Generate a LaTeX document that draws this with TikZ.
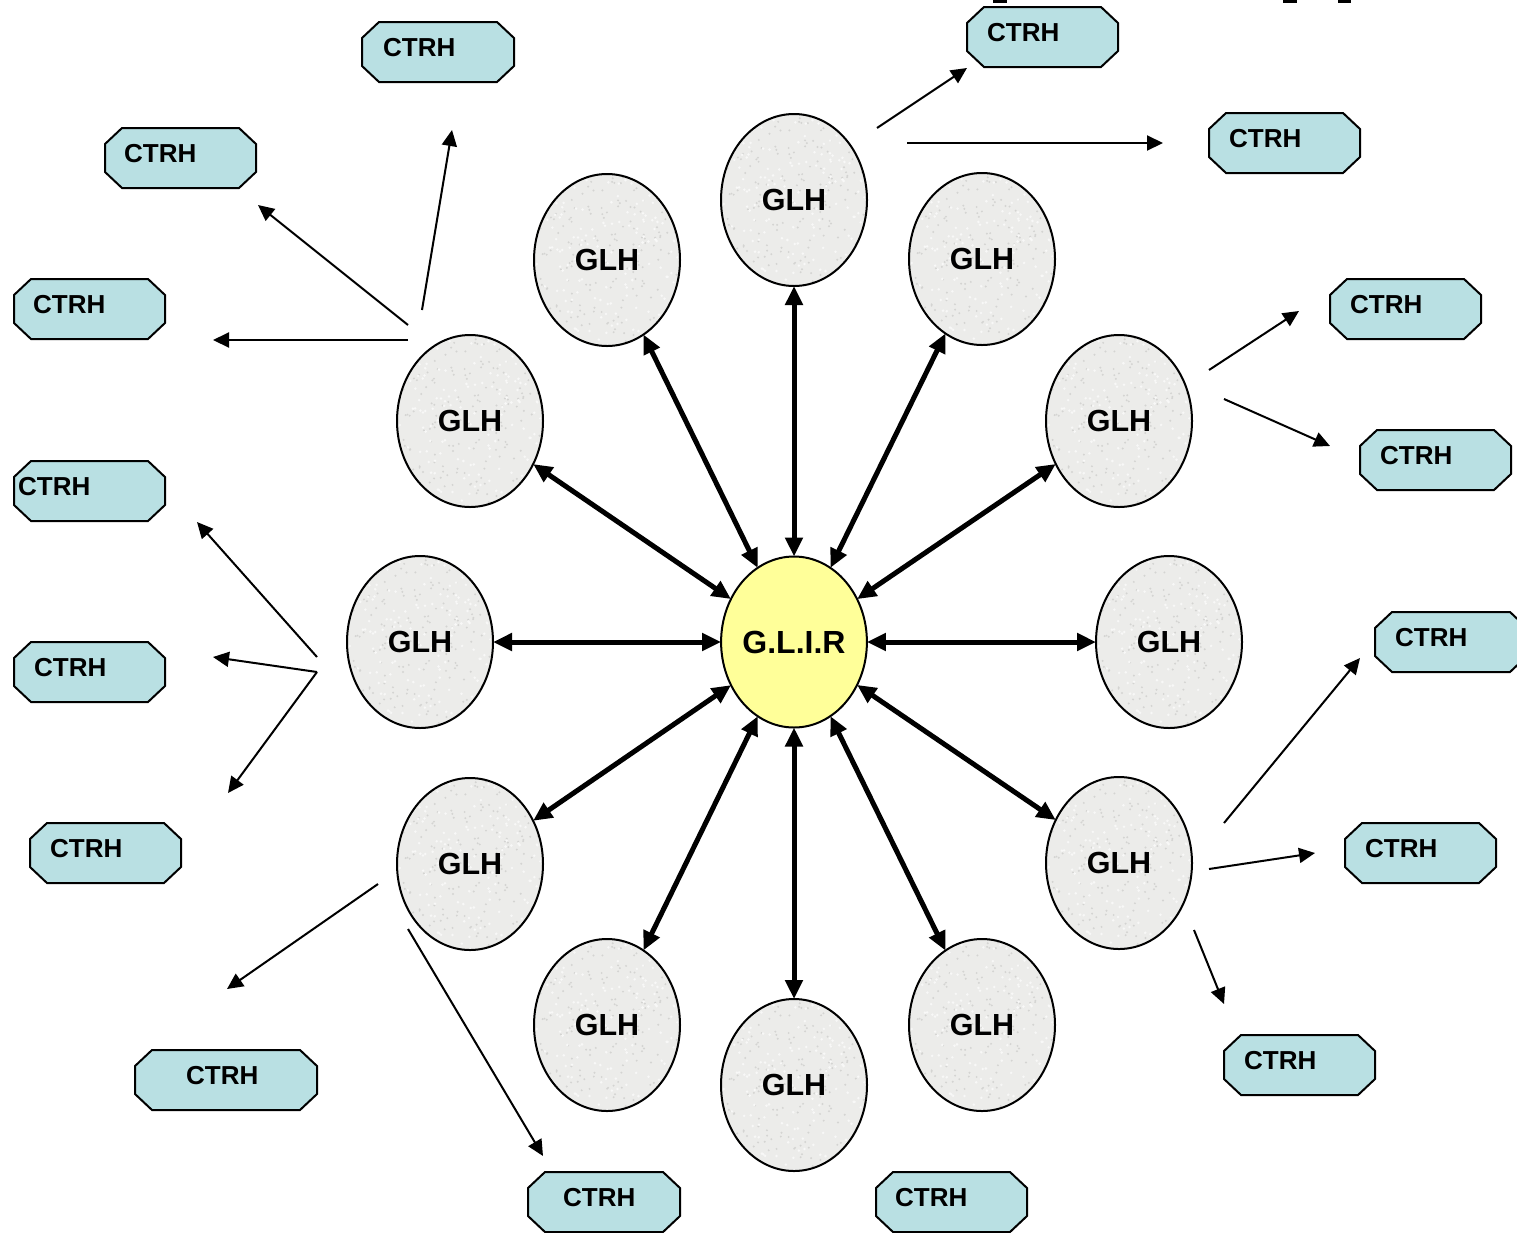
\documentclass[tikz,border=0pt]{standalone}
\usepackage{fontspec}
\setmainfont{Liberation Sans}
\usetikzlibrary{shapes.geometric,arrows.meta}
\definecolor{ctrhblue}{HTML}{B9E0E3}
\definecolor{glhgray}{HTML}{ECECEA}
\definecolor{speckdark}{HTML}{D4D4D2}
\definecolor{specklight}{HTML}{F8F8F7}
\definecolor{glirfill}{HTML}{FFFF99}
\newcommand\octbox[5]{%
  \node[ctrhbase, minimum width=#4] (#1) at (#2,#3) {};
  \draw[ctrhline] ([xshift=17pt]#1.north west) -- ([xshift=-17pt]#1.north east)
    -- ([yshift=-16pt]#1.north east) -- ([yshift=16pt]#1.south east)
    -- ([xshift=-17pt]#1.south east) -- ([xshift=17pt]#1.south west)
    -- ([yshift=16pt]#1.south west) -- ([yshift=-16pt]#1.north west) -- cycle;
  \node[ctrhtxt, anchor=west] (#1t) at ([xshift=#5pt,yshift=4pt]#1.west) {CTRH};
}
\begin{document}
\begin{tikzpicture}[x=1pt,y=-1pt,
  glh/.style={ellipse, draw, line width=2pt, fill=glhgray, minimum width=146pt,
    minimum height=172pt, inner sep=0pt, outer sep=0pt,
    font=\fontsize{30.5}{36}\selectfont\bfseries,
    path picture={\pgfmathsetseed{7}%
      \foreach \i in {1,...,220}{%
        \pgfmathsetmacro\rx{rand*75}\pgfmathsetmacro\ry{rand*88}%
        \fill[speckdark] ([xshift=\rx pt, yshift=\ry pt]path picture bounding box.center) circle (1.1pt);}
      \foreach \i in {1,...,180}{%
        \pgfmathsetmacro\rx{rand*75}\pgfmathsetmacro\ry{rand*88}%
        \fill[specklight] ([xshift=\rx pt, yshift=\ry pt]path picture bounding box.center) circle (1.4pt);}
    }},
  glir/.style={ellipse, draw, line width=2pt, fill=glirfill, minimum width=144pt,
    minimum height=171pt, inner sep=0pt, outer sep=0pt,
    font=\fontsize{32}{36}\selectfont\bfseries},
  ctrhbase/.style={rectangle, draw=none, minimum height=60pt, inner sep=0pt, outer sep=0pt},
  ctrhline/.style={draw=black, line width=2pt, fill=ctrhblue, line join=miter},
  ctrhtxt/.style={inner sep=0pt, font=\fontsize{26}{30}\selectfont\bfseries},
  thick arrow/.style={line width=5pt, {Triangle[length=19pt,width=17pt]}-{Triangle[length=19pt,width=17pt]}},
  thin arrow/.style={line width=2pt, -{Triangle[length=16pt,width=15pt]}}
]
\useasboundingbox (0,0) rectangle (1517,1232);
\clip (0,0) rectangle (1517,1232);

% clipped marks at the top edge
\fill (993,-2) rectangle (1007,3);
\fill (1283,-2) rectangle (1297,3);
\fill (1338,-2) rectangle (1351,3);

% centre and GLH nodes
\node[glir] (c) at (794,642) {G.L.I.R};
\node[glh] (g1) at (794,200) {GLH};
\node[glh] (g2) at (607,260) {GLH};
\node[glh] (g3) at (982,259) {GLH};
\node[glh] (g4) at (470,421) {GLH};
\node[glh] (g5) at (1119,421) {GLH};
\node[glh] (g6) at (420,642) {GLH};
\node[glh] (g7) at (1169,642) {GLH};
\node[glh] (g8) at (470,864) {GLH};
\node[glh] (g9) at (1119,863) {GLH};
\node[glh] (g10) at (607,1025) {GLH};
\node[glh] (g11) at (982,1025) {GLH};
\node[glh] (g12) at (794,1085) {GLH};

\foreach \g in {g1,g2,g3,g4,g5,g6,g7,g8,g9,g10,g11,g12}
  \draw[thick arrow] (c) -- (\g);

% CTRH boxes
\octbox{cA}{438}{52}{152}{21}
\octbox{cB}{180.5}{158}{151}{19}
\octbox{cC}{89.5}{309}{151}{19}
\octbox{cD}{89.5}{491}{151}{4}
\octbox{cE}{89.5}{672}{151}{20}
\octbox{cF}{105.5}{853}{151}{20}
\octbox{cG}{226}{1080}{182}{51}
\octbox{cH}{604}{1202}{152}{35}
\octbox{cI}{951.5}{1202}{151}{19}
\octbox{cJ}{1042.5}{37}{151}{20}
\octbox{cK}{1284.5}{143}{151}{20}
\octbox{cL}{1405.5}{309}{151}{20}
\octbox{cM}{1435.5}{460}{151}{20}
\octbox{cN}{1451}{642}{152}{20}
\octbox{cO}{1420.5}{853}{151}{20}
\octbox{cP}{1299.5}{1065}{151}{20}

% thin arrow end points
\coordinate (sA) at (422,310); \coordinate (eA) at (452,130);
\coordinate (sB) at (408,325); \coordinate (eB) at (258,205);
\coordinate (sC) at (408,340); \coordinate (eC) at (213,340);
\coordinate (sD) at (317,657); \coordinate (eD) at (197,522);
\coordinate (sE) at (317,672); \coordinate (eE) at (213,657);
\coordinate (eF) at (228,793);
\coordinate (sG) at (378,884); \coordinate (eG) at (227,989);
\coordinate (sH) at (408,929); \coordinate (eH) at (543,1156);
\coordinate (sJ) at (877,128); \coordinate (eJ) at (967,68);
\coordinate (sK) at (907,143); \coordinate (eK) at (1163,143);
\coordinate (sL) at (1209,370); \coordinate (eL) at (1299,311);
\coordinate (sM) at (1224,399); \coordinate (eM) at (1330,446);
\coordinate (sN) at (1224,823); \coordinate (eN) at (1360,658);
\coordinate (sO) at (1209,869); \coordinate (eO) at (1315,853);
\coordinate (sP) at (1194,930); \coordinate (eP) at (1224,1004);

\draw[thin arrow] (sA) -- (eA);
\draw[thin arrow] (sB) -- (eB);
\draw[thin arrow] (sC) -- (eC);
\draw[thin arrow] (sD) -- (eD);
\draw[thin arrow] (sE) -- (eE);
\draw[thin arrow] (sE) -- (eF);
\draw[thin arrow] (sG) -- (eG);
\draw[thin arrow] (sH) -- (eH);
\draw[thin arrow] (sJ) -- (eJ);
\draw[thin arrow] (sK) -- (eK);
\draw[thin arrow] (sL) -- (eL);
\draw[thin arrow] (sM) -- (eM);
\draw[thin arrow] (sN) -- (eN);
\draw[thin arrow] (sO) -- (eO);
\draw[thin arrow] (sP) -- (eP);
\end{tikzpicture}
\end{document}
